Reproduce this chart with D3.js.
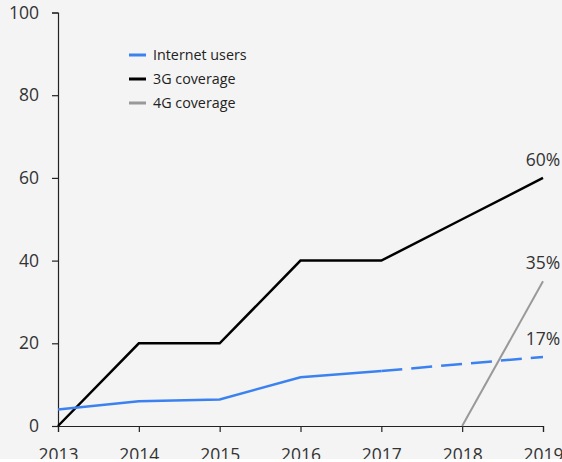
<!DOCTYPE html>
<html>
<head>
<meta charset="utf-8">
<script src="https://cdn.jsdelivr.net/npm/d3@7"></script>
<style>
  body { margin: 0; background: #fff; }
  svg { display: block; font-family: "Open Sans", sans-serif; }
</style>
</head>
<body>
<div id="wrapper"></div>
<script>
var years = [2013, 2014, 2015, 2016, 2017, 2018, 2019]
var internetUsers = [4, 6, 6.4, 11.8, 13.3]          // 2013-2017, solid
var internetProjected = [13.3, 15, 16.7]             // 2017-2019, dashed
var coverage3G = [0, 20, 20, 40, 40, 50, 60]
var coverage4G = [0, 35]                             // 2018-2019
var yTicks = [0, 20, 40, 60, 80, 100]
var endLabels = ["60%", "35%", "17%"]
var endValues = [60, 35, 16.7]

var dimension = {
    width: 562,
    height: 459,
    margin: { top: 12.5, right: 19, bottom: 33, left: 58 }
}

const svg = d3.select("#wrapper")
    .append("svg")
    .attr("width", dimension.width)
    .attr("height", dimension.height)

svg.append("rect")
    .attr("width", dimension.width)
    .attr("height", dimension.height)
    .attr("fill", "#f4f4f4")

var x = d3.scaleLinear()
    .domain([2013, 2019])
    .range([dimension.margin.left, dimension.width - dimension.margin.right])

var y = d3.scaleLinear()
    .domain([0, 100])
    .range([dimension.height - dimension.margin.bottom, dimension.margin.top])

// axes
const yAxis = svg.append("g")
    .attr("transform", `translate(${dimension.margin.left},0)`)
    .call(d3.axisLeft(y).tickValues(yTicks).tickSize(6).tickPadding(13))
const xAxis = svg.append("g")
    .attr("transform", `translate(0,${y(0)})`)
    .call(d3.axisBottom(x).tickValues(years).tickFormat(d3.format("d")).tickSize(6).tickPadding(17))

svg.selectAll(".domain, .tick line").attr("stroke", "#222").attr("stroke-width", 1.2)
svg.selectAll(".tick text").attr("fill", "#333").style("font-size", "17.5px").style("font-family", "Open Sans")

var line = d3.line()
    .x(d => x(d[0]))
    .y(d => y(d[1]))

// 4G
svg.append("path")
    .attr("d", line(coverage4G.map((v, i) => [2018 + i, v])))
    .attr("fill", "none")
    .attr("stroke", "#999")
    .attr("stroke-width", 2)

// 3G
svg.append("path")
    .attr("d", line(coverage3G.map((v, i) => [years[i], v])))
    .attr("fill", "none")
    .attr("stroke", "#000")
    .attr("stroke-width", 2.5)

// internet users
svg.append("path")
    .attr("d", line(internetUsers.map((v, i) => [years[i], v])))
    .attr("fill", "none")
    .attr("stroke", "#3b82f0")
    .attr("stroke-width", 2.5)

svg.append("path")
    .attr("d", line(internetProjected.map((v, i) => [2017 + i, v])))
    .attr("fill", "none")
    .attr("stroke", "#3b82f0")
    .attr("stroke-width", 2.5)
    .attr("stroke-dasharray", "21,9")

// end labels
svg.append("g")
    .selectAll("text")
    .data(endLabels)
    .enter()
    .append("text")
    .attr("x", x(2019))
    .attr("y", (d, i) => y(endValues[i]) - 12)
    .attr("text-anchor", "middle")
    .attr("fill", "#333")
    .style("font-size", "17.5px")
    .text(d => d)

// legend
var legendItems = [
    { name: "Internet users", color: "#3b82f0" },
    { name: "3G coverage", color: "#000" },
    { name: "4G coverage", color: "#999" }
]

const legend = svg.append("g")
    .selectAll("g")
    .data(legendItems)
    .enter()
    .append("g")
    .attr("transform", (d, i) => `translate(129,${55 + i * 24})`)

legend.append("line")
    .attr("x1", 0)
    .attr("x2", 17)
    .attr("stroke", d => d.color)
    .attr("stroke-width", 3)

legend.append("text")
    .attr("x", 24)
    .attr("dy", "0.35em")
    .attr("fill", "#222")
    .style("font-size", "14.3px")
    .text(d => d.name)
</script>
</body>
</html>
